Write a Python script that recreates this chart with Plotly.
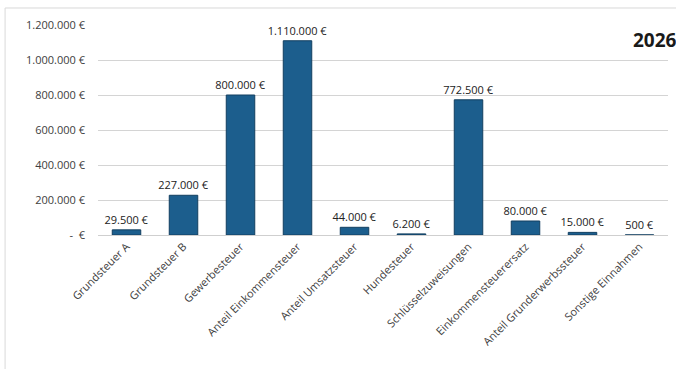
import plotly.graph_objects as go

categories = ["Grundsteuer A", "Grundsteuer B", "Gewerbesteuer", "Anteil Einkommensteuer",
              "Anteil Umsatzsteuer", "Hundesteuer", "Schlüsselzuweisungen",
              "Einkommensteuerersatz", "Anteil Grunderwerbssteuer", "Sonstige Einnahmen"]
values = [29500, 227000, 800000, 1110000, 44000, 6200, 772500, 80000, 15000, 500]
tick_vals = [0, 200000, 400000, 600000, 800000, 1000000, 1200000]
tick_text = ["-  €", "200.000 €", "400.000 €", "600.000 €", "800.000 €", "1.000.000 €", "1.200.000 €"]
title_text = "2026"

def fmt(v):
    return f"{v:,}".replace(",", ".") + " €"

font_family = "Open Sans, Noto Sans, sans-serif"

fig = go.Figure(go.Bar(
    x=categories, y=values,
    text=[fmt(v) for v in values], textposition="outside",
    textfont=dict(size=11, color="#222222", family=font_family),
    cliponaxis=False,
    marker=dict(color="#1c5e8d", line=dict(color="#123f60", width=1)),
))

fig.update_layout(
    width=676, height=369,
    margin=dict(l=98, r=8, t=25, b=134),
    paper_bgcolor="white", plot_bgcolor="white",
    bargap=0.5, showlegend=False,
    uniformtext=dict(minsize=11, mode="show"),
    font=dict(family=font_family, size=11, color="#404040"),
    xaxis=dict(tickangle=-45, showgrid=False, showline=True, linecolor="#cfcfcf",
               ticks="", tickfont=dict(size=11, color="#404040")),
    yaxis=dict(range=[0, 1200000], tickvals=tick_vals, ticktext=tick_text,
               showgrid=True, gridcolor="#d4d4d4", gridwidth=1, zeroline=False,
               ticks="", ticklabelstandoff=12, tickfont=dict(size=11, color="#404040")),
    annotations=[dict(text="<b>" + title_text + "</b>", xref="paper", yref="paper",
                      x=0.935, y=0.93, xanchor="left", yanchor="middle", showarrow=False,
                      font=dict(size=19, color="#1a1a1a", family=font_family))],
    shapes=[dict(type="rect", xref="paper", yref="paper", x0=-0.163, y0=-0.8, x1=1.05, y1=1.081,
                 line=dict(color="#d9d9d9", width=1), fillcolor="rgba(0,0,0,0)", layer="below")],
)

fig.write_html("out.html")
